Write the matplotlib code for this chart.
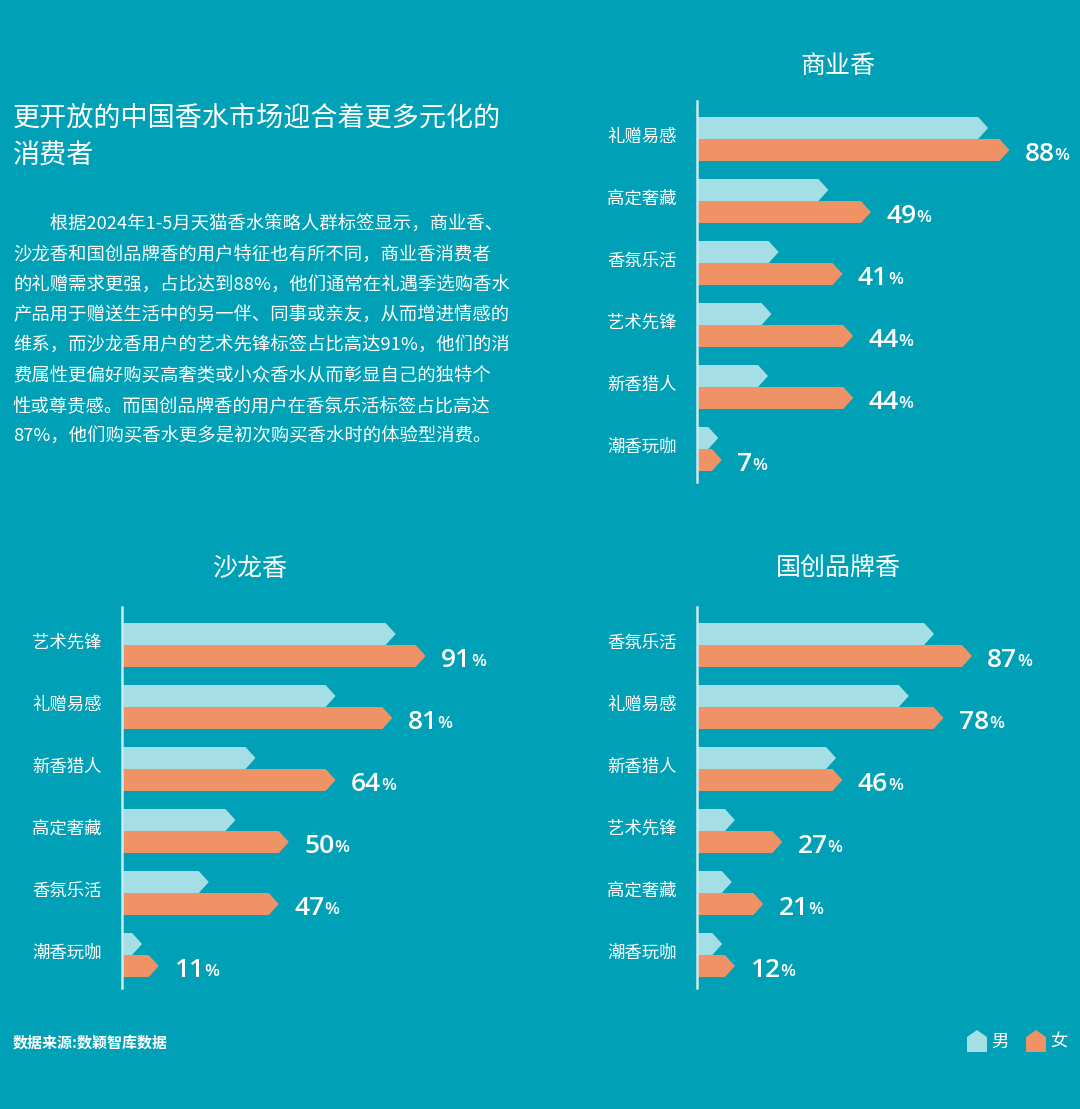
import matplotlib.pyplot as plt
from matplotlib.patches import Polygon
from matplotlib import transforms

plt.rcParams['font.family'] = ['Noto Sans CJK SC', 'DejaVu Sans']

BG = '#00A1B6'
MALE = '#A6DEE5'
FEMALE = '#EF9265'
AXLINE = '#C9EAF0'

# --- data ---
commercial_cats = ['礼赠易感', '高定奢藏', '香氛乐活', '艺术先锋', '新香猎人', '潮香玩咖']
commercial_female = [88, 49, 41, 44, 44, 7]
commercial_male = [82, 37, 23, 21, 20, 6]

salon_cats = ['艺术先锋', '礼赠易感', '新香猎人', '高定奢藏', '香氛乐活', '潮香玩咖']
salon_female = [91, 81, 64, 50, 47, 11]
salon_male = [82, 64, 40, 34, 26, 6]

guochao_cats = ['香氛乐活', '礼赠易感', '新香猎人', '艺术先锋', '高定奢藏', '潮香玩咖']
guochao_female = [87, 78, 46, 27, 21, 12]
guochao_male = [75, 67, 44, 12, 11, 8]

title_lines = ['更开放的中国香水市场迎合着更多元化的', '消费者']
body_lines = [
    '　　根据2024年1-5月天猫香水策略人群标签显示，商业香、',
    '沙龙香和国创品牌香的用户特征也有所不同，商业香消费者',
    '的礼赠需求更强，占比达到88%，他们通常在礼遇季选购香水',
    '产品用于赠送生活中的另一伴、同事或亲友，从而增进情感的',
    '维系，而沙龙香用户的艺术先锋标签占比高达91%，他们的消',
    '费属性更偏好购买高奢类或小众香水从而彰显自己的独特个',
    '性或尊贵感。而国创品牌香的用户在香氛乐活标签占比高达',
    '87%，他们购买香水更多是初次购买香水时的体验型消费。',
]
source = '数据来源:数颖智库数据'

W, H = 1080, 1109
fig = plt.figure(figsize=(W / 100, H / 100), dpi=100, facecolor=BG)
NUMFONT = ['Open Sans', 'DejaVu Sans']


def fx(x):
    return x / W


def fy(y):
    return 1 - y / H


def arrow(ax, y0, y1, length, tip, color):
    ym = (y0 + y1) / 2
    pts = [(0, y0), (max(length - tip, 0), y0), (length, ym),
           (max(length - tip, 0), y1), (0, y1)]
    ax.add_patch(Polygon(pts, closed=True, facecolor=color, edgecolor='none'))


def panel(left, right, top, bottom, scale, label_x, title, title_xy,
          cats, male, female):
    ax = fig.add_axes([fx(left), fy(bottom), fx(right - left), (bottom - top) / H])
    ax.set_facecolor('none')
    pitch = 62.0
    xmax = (right - left) / scale
    ax.set_xlim(0, xmax)
    ax.set_ylim((bottom - top - 38) / pitch, -38 / pitch)
    for s in ['top', 'right', 'bottom']:
        ax.spines[s].set_visible(False)
    ax.spines['left'].set_color(AXLINE)
    ax.spines['left'].set_linewidth(1.8)
    ax.set_xticks([])
    ax.set_yticks([])

    bh = 22 / pitch
    tip = 10 / scale
    lab_tr = transforms.blended_transform_factory(fig.transFigure, ax.transData)
    for i, (c, m, f) in enumerate(zip(cats, male, female)):
        arrow(ax, i - bh, i, m, tip, MALE)
        arrow(ax, i, i + bh, f, tip, FEMALE)
        ax.text(fx(label_x), i - 0.04, c, transform=lab_tr, ha='left',
                va='center', color='white', fontsize=12.5)
        t = ax.annotate(str(f), xy=(f, i + bh / 2), xytext=(11, -3),
                        textcoords='offset points', ha='left', va='center',
                        color='white', fontsize=19, fontweight='semibold',
                        family=NUMFONT)
        ax.annotate('%', xy=(1, 0.12), xycoords=t, xytext=(0, 0),
                    textcoords='offset points', ha='left', va='bottom',
                    color='white', fontsize=12.5, fontweight='semibold',
                    family=NUMFONT)
    fig.text(fx(title_xy[0]), fy(title_xy[1]), title, ha='center',
             va='center', color='white', fontsize=18)
    return ax


panel(697, 1080, 101, 482, 3.55, 607, '商业香', (838, 66),
      commercial_cats, commercial_male, commercial_female)
panel(122, 500, 607, 988, 3.337, 32, '沙龙香', (250, 569),
      salon_cats, salon_male, salon_female)
panel(697, 1080, 607, 988, 3.161, 607, '国创品牌香', (838, 569),
      guochao_cats, guochao_male, guochao_female)

# headline and body text
for k, line in enumerate(title_lines):
    fig.text(fx(13), fy(118 + 38 * k), line, ha='left', va='center',
             color='white', fontsize=19.5)
for k, line in enumerate(body_lines):
    fig.text(fx(13), fy(225 + 30.3 * k), line, ha='left', va='center',
             color='white', fontsize=13.2)

fig.text(fx(13), fy(1043), source, ha='left', va='center', color='white',
         fontsize=10.8, fontweight='bold')

# legend
for x0, col, name in [(967, MALE, '男'), (1026, FEMALE, '女')]:
    pts = [(x0, 1052), (x0, 1037), (x0 + 10, 1030), (x0 + 20, 1037), (x0 + 20, 1052)]
    fig.add_artist(Polygon([(fx(a), fy(b)) for a, b in pts], closed=True,
                           transform=fig.transFigure, facecolor=col,
                           edgecolor='none'))
    fig.text(fx(x0 + 24), fy(1042), name, ha='left', va='center',
             color='white', fontsize=12.5)

fig.savefig('out.png', dpi=100, facecolor=BG)
